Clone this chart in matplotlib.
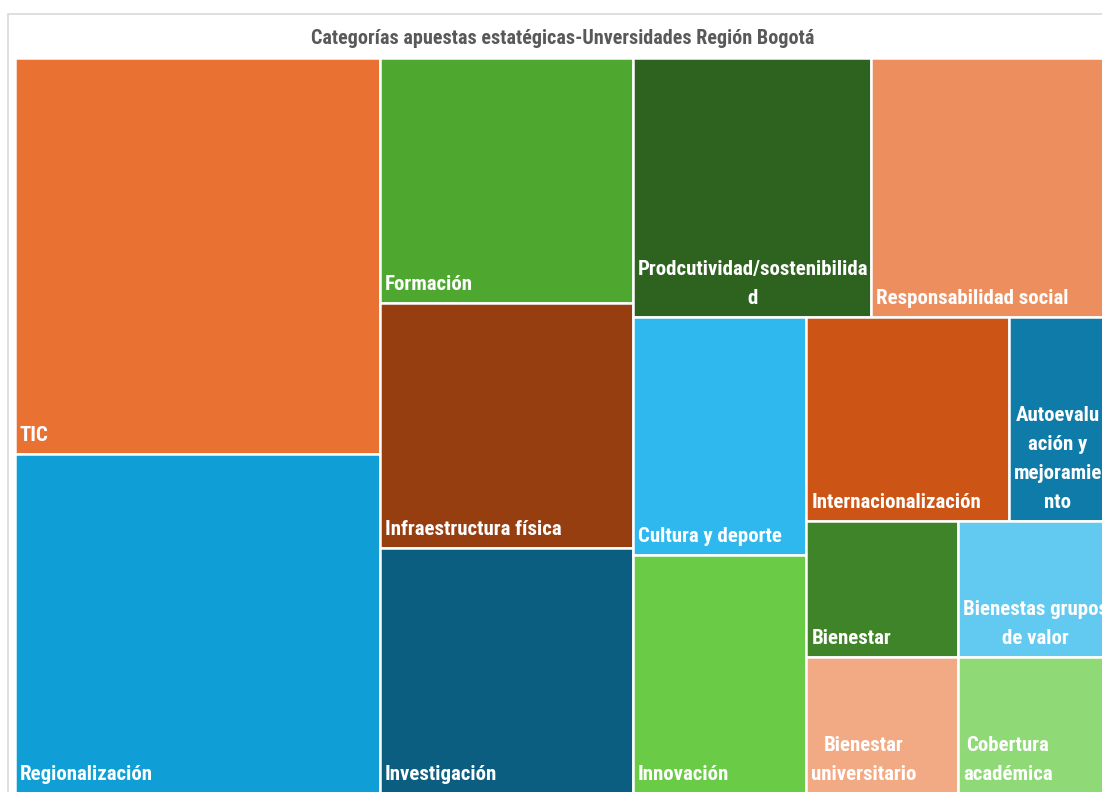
import matplotlib
matplotlib.use("Agg")
import matplotlib.pyplot as plt
from matplotlib import font_manager
from matplotlib.patches import Rectangle

# ---------------------------------------------------------------------------
# Data: strategic bet categories (relative weight, read from tile areas)
# ---------------------------------------------------------------------------
TITLE = "Categorías apuestas estatégicas-Unversidades Región Bogotá"

categories = [
    "TIC", "Regionalización",
    "Formación", "Infraestructura física", "Investigación",
    "Prodcutividad/sostenibilidad", "Responsabilidad social",
    "Cultura y deporte", "Innovación", "Internacionalización",
    "Autoevaluación y mejoramiento", "Bienestar", "Bienestar universitario",
    "Bienestas grupos de valor", "Cobertura académica",
]
values = [7, 6, 3, 3, 3, 3, 3, 2, 2, 2, 1, 1, 1, 1, 1]

# labels as wrapped in the original chart
labels = [
    "TIC", "Regionalización",
    "Formación", "Infraestructura física", "Investigación",
    "Prodcutividad/sostenibilida\nd", "Responsabilidad social",
    "Cultura y deporte", "Innovación", "Internacionalización",
    "Autoevalu\nación y\nmejoramie\nnto", "Bienestar", "Bienestar\nuniversitario",
    "Bienestas grupos\nde valor", "Cobertura\nacadémica",
]

colors = [
    "#E97132", "#0F9ED5",
    "#4EA72E", "#963E10", "#0B5E7F",
    "#2E631F", "#ED8E5E",
    "#2EB8EE", "#6ACB47", "#CC5415",
    "#0F7BA9", "#3F8428", "#F2AA84",
    "#62C9F1", "#8FD977",
]

# ---------------------------------------------------------------------------
# Fonts: prefer a narrow bold face like the original
# ---------------------------------------------------------------------------
installed = {f.name for f in font_manager.fontManager.ttflist}
FONT = dict(family="DejaVu Sans", stretch="condensed")
for cand in ["Roboto Condensed", "Open Sans Condensed", "IBM Plex Sans Condensed",
             "Liberation Sans Narrow"]:
    if cand in installed:
        FONT = dict(family=cand)
        break


# ---------------------------------------------------------------------------
# Squarified treemap layout
# ---------------------------------------------------------------------------
def worst_ratio(row, length):
    thick = sum(row) / length
    return max(max(thick / (a / thick), (a / thick) / thick) for a in row)


def squarify(areas, x, y, w, h):
    rects = []
    i = 0
    while i < len(areas):
        vertical = w >= h - 1e-9
        length = h if vertical else w
        row = [areas[i]]
        j = i + 1
        while j < len(areas) and worst_ratio(row + [areas[j]], length) < worst_ratio(row, length):
            row.append(areas[j])
            j += 1
        thick = sum(row) / length
        pos = y if vertical else x
        for a in row:
            side = a / thick
            if vertical:
                rects.append((x, pos, thick, side))
            else:
                rects.append((pos, y, side, thick))
            pos += side
        if vertical:
            x += thick
            w -= thick
        else:
            y += thick
            h -= thick
        i = j
    return rects


W, H = 1.5, 1.0
total = sum(values)
areas = [v / total * W * H for v in values]
rects = squarify(areas, 0.0, 0.0, W, H)

# ---------------------------------------------------------------------------
# Plot
# ---------------------------------------------------------------------------
fig = plt.figure(figsize=(11.02, 7.92), dpi=100)
fig.patch.set_facecolor("white")

# light chart-area frame
fig.patches.append(Rectangle((8 / 1102, -0.05), 1.1, 1 - 14 / 792 + 0.05,
                             transform=fig.transFigure, fill=False,
                             edgecolor="#D9D9D9", linewidth=1.2))

ax = fig.add_axes([15 / 1102, -1 / 792, 1095 / 1102, 735 / 792])
ax.set_xlim(0, W)
ax.set_ylim(H, 0)
ax.axis("off")

px = 1095 / W  # pixels per data unit (x)
py = 735 / H
for (rx, ry, rw, rh), lab, col in zip(rects, labels, colors):
    ax.add_patch(Rectangle((rx, ry), rw, rh, facecolor=col,
                           edgecolor="white", linewidth=1.8))
    ax.text(rx + 5 / px, ry + rh - 13 / py, lab, color="white",
            fontsize=15, fontweight="bold", ha="left", va="baseline",
            multialignment="center", linespacing=1.68, **FONT)

fig.text(563 / 1102, 1 - 38 / 792, TITLE, color="#595959", fontsize=14.5,
         fontweight="bold", ha="center", va="center", **FONT)

fig.savefig("out.png", dpi=100)
